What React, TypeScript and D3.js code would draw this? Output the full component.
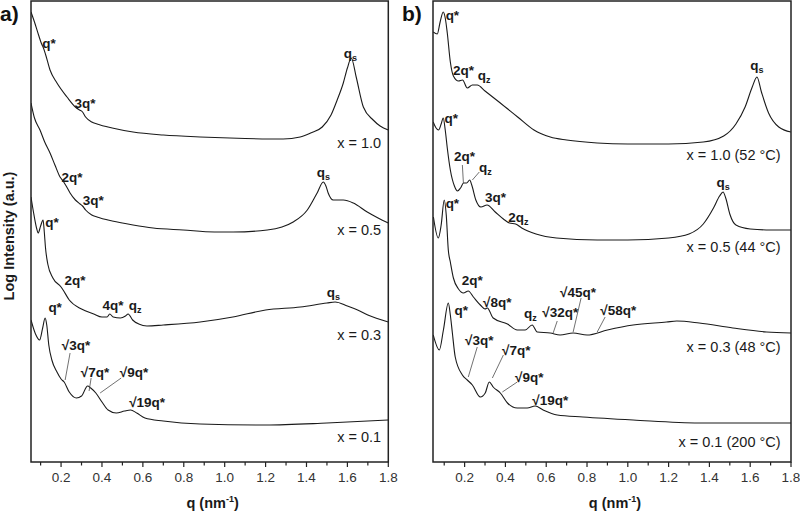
import React from "react";
import * as d3 from "d3";

type P = [number, number];

// ---- Panel a series (q in nm^-1, log intensity in a.u., offset) ----
const a_x10: P[] = [[0.053,4.50],[0.07,4.40],[0.09,4.27],[0.105,4.18],[0.112,4.15],[0.125,4.07],[0.146,3.92],[0.18,3.79],[0.229,3.65],[0.27,3.55],[0.29,3.52],[0.305,3.50],[0.32,3.45],[0.35,3.40],[0.376,3.38],[0.45,3.34],[0.552,3.30],[0.7,3.27],[0.88,3.25],[1.1,3.235],[1.286,3.23],[1.369,3.25],[1.42,3.29],[1.477,3.35],[1.52,3.47],[1.55,3.62],[1.58,3.79],[1.60,3.94],[1.619,4.04],[1.643,3.85],[1.678,3.55],[1.726,3.42],[1.76,3.36],[1.80,3.32]];
const a_x05: P[] = [[0.053,3.59],[0.07,3.44],[0.097,3.32],[0.12,3.20],[0.146,3.09],[0.17,2.97],[0.195,2.85],[0.21,2.81],[0.225,2.76],[0.244,2.69],[0.27,2.62],[0.293,2.58],[0.305,2.56],[0.32,2.52],[0.35,2.47],[0.376,2.45],[0.45,2.41],[0.552,2.37],[0.65,2.34],[0.797,2.32],[0.95,2.30],[1.041,2.30],[1.208,2.32],[1.28,2.35],[1.335,2.40],[1.404,2.52],[1.452,2.69],[1.482,2.80],[1.495,2.76],[1.506,2.69],[1.531,2.62],[1.58,2.62],[1.629,2.59],[1.697,2.50],[1.75,2.44],[1.80,2.39]];
const a_x03: P[] = [[0.053,2.65],[0.065,2.50],[0.08,2.34],[0.088,2.29],[0.100,2.36],[0.112,2.42],[0.118,2.30],[0.124,2.14],[0.135,1.98],[0.16,1.84],[0.2,1.75],[0.21,1.72],[0.24,1.62],[0.3,1.53],[0.36,1.48],[0.40,1.45],[0.425,1.45],[0.438,1.48],[0.455,1.45],[0.49,1.44],[0.515,1.46],[0.528,1.48],[0.55,1.42],[0.58,1.38],[0.62,1.36],[0.7,1.37],[0.88,1.40],[1.04,1.45],[1.2,1.52],[1.37,1.55],[1.5,1.59],[1.54,1.60],[1.6,1.56],[1.65,1.52],[1.7,1.47],[1.8,1.40]];
const a_x01: P[] = [[0.053,1.42],[0.075,1.28],[0.095,1.22],[0.11,1.34],[0.122,1.44],[0.13,1.37],[0.14,1.17],[0.155,1.02],[0.18,0.90],[0.2,0.83],[0.215,0.80],[0.24,0.70],[0.275,0.64],[0.30,0.66],[0.33,0.76],[0.345,0.74],[0.37,0.69],[0.40,0.60],[0.43,0.52],[0.47,0.49],[0.51,0.51],[0.54,0.52],[0.57,0.49],[0.61,0.44],[0.7,0.41],[0.88,0.38],[1.2,0.37],[1.5,0.39],[1.8,0.42]];

// ---- Panel b series ----
const b_x10: P[] = [[0.046,4.30],[0.066,4.28],[0.08,4.40],[0.095,4.50],[0.105,4.44],[0.115,4.29],[0.13,4.00],[0.145,3.86],[0.17,3.81],[0.19,3.82],[0.213,3.74],[0.238,3.77],[0.262,3.77],[0.30,3.71],[0.375,3.59],[0.46,3.45],[0.54,3.32],[0.62,3.25],[0.7,3.22],[0.85,3.19],[1.0,3.18],[1.2,3.18],[1.37,3.20],[1.47,3.26],[1.53,3.38],[1.575,3.55],[1.61,3.75],[1.633,3.85],[1.655,3.70],[1.69,3.49],[1.74,3.35],[1.8,3.30]];
const b_x05: P[] = [[0.046,3.40],[0.06,3.34],[0.072,3.32],[0.085,3.38],[0.095,3.44],[0.105,3.32],[0.115,3.14],[0.13,2.92],[0.15,2.76],[0.165,2.71],[0.18,2.74],[0.195,2.79],[0.21,2.79],[0.225,2.82],[0.235,2.77],[0.255,2.62],[0.28,2.55],[0.31,2.57],[0.35,2.50],[0.39,2.43],[0.42,2.39],[0.45,2.38],[0.48,2.34],[0.55,2.28],[0.65,2.24],[0.85,2.22],[1.0,2.22],[1.2,2.24],[1.3,2.28],[1.37,2.38],[1.42,2.54],[1.45,2.66],[1.467,2.70],[1.48,2.64],[1.50,2.48],[1.53,2.37],[1.6,2.33],[1.7,2.32],[1.8,2.32]];
const b_x03: P[] = [[0.047,2.45],[0.071,2.24],[0.085,2.37],[0.10,2.62],[0.11,2.47],[0.12,2.12],[0.13,2.00],[0.145,1.84],[0.17,1.73],[0.194,1.69],[0.218,1.71],[0.243,1.65],[0.277,1.57],[0.30,1.53],[0.311,1.54],[0.34,1.44],[0.41,1.38],[0.458,1.32],[0.497,1.32],[0.531,1.37],[0.556,1.30],[0.62,1.29],[0.668,1.27],[0.732,1.29],[0.80,1.27],[0.9,1.32],[1.026,1.37],[1.19,1.40],[1.24,1.41],[1.35,1.39],[1.515,1.34],[1.68,1.30],[1.8,1.29]];
const b_x01: P[] = [[0.046,1.27],[0.076,1.12],[0.096,1.32],[0.12,1.59],[0.13,1.47],[0.14,1.29],[0.154,1.05],[0.189,0.87],[0.213,0.82],[0.238,0.77],[0.277,0.65],[0.301,0.69],[0.321,0.80],[0.34,0.75],[0.375,0.69],[0.41,0.59],[0.458,0.54],[0.507,0.54],[0.546,0.56],[0.585,0.52],[0.654,0.47],[0.78,0.45],[1.026,0.42],[1.35,0.39],[1.8,0.39]];

const tickValues = [0.2, 0.4, 0.6, 0.8, 1.0, 1.2, 1.4, 1.6, 1.8];
const minorTicks = [0.1, 0.3, 0.5, 0.7, 0.9, 1.1, 1.3, 1.5, 1.7];

type Lbl = { t: string; sub?: string; q: number; I: number; anchor?: string; bold?: boolean };
type Lead = [number, number, number, number];

const a_labels: Lbl[] = [
  { t: "q*", q: 0.141, I: 4.19 },
  { t: "3q*", q: 0.317, I: 3.59 },
  { t: "q", sub: "s", q: 1.614, I: 4.09 },
  { t: "x = 1.0", q: 1.765, I: 3.19, anchor: "end", bold: false },
  { t: "2q*", q: 0.254, I: 2.85 },
  { t: "3q*", q: 0.357, I: 2.62 },
  { t: "q", sub: "s", q: 1.482, I: 2.90 },
  { t: "x = 0.5", q: 1.765, I: 2.32, anchor: "end", bold: false },
  { t: "q*", q: 0.156, I: 2.40 },
  { t: "2q*", q: 0.268, I: 1.82 },
  { t: "4q*", q: 0.454, I: 1.57 },
  { t: "q", sub: "z", q: 0.562, I: 1.57 },
  { t: "q", sub: "s", q: 1.531, I: 1.70 },
  { t: "x = 0.3", q: 1.765, I: 1.27, anchor: "end", bold: false },
  { t: "q*", q: 0.171, I: 1.55 },
  { t: "√3q*", q: 0.273, I: 1.17 },
  { t: "√7q*", q: 0.366, I: 0.90 },
  { t: "√9q*", q: 0.557, I: 0.90 },
  { t: "√19q*", q: 0.621, I: 0.60 },
  { t: "x = 0.1", q: 1.765, I: 0.25, anchor: "end", bold: false },
];
const a_leaders: Lead[] = [
  [0.244, 1.09, 0.220, 0.82],
  [0.347, 0.84, 0.337, 0.71],
  [0.494, 0.84, 0.391, 0.69],
];

const b_labels: Lbl[] = [
  { t: "q*", q: 0.140, I: 4.47 },
  { t: "2q*", q: 0.194, I: 3.92 },
  { t: "q", sub: "z", q: 0.296, I: 3.87 },
  { t: "q", sub: "s", q: 1.633, I: 3.97 },
  { t: "x = 1.0 (52 °C)", q: 1.749, I: 3.07, anchor: "end", bold: false },
  { t: "q*", q: 0.135, I: 3.44 },
  { t: "2q*", q: 0.199, I: 3.06 },
  { t: "q", sub: "z", q: 0.302, I: 2.95 },
  { t: "3q*", q: 0.351, I: 2.65 },
  { t: "2q", sub: "z", q: 0.463, I: 2.45 },
  { t: "q", sub: "s", q: 1.467, I: 2.80 },
  { t: "x = 0.5 (44 °C)", q: 1.749, I: 2.15, anchor: "end", bold: false },
  { t: "q*", q: 0.140, I: 2.59 },
  { t: "2q*", q: 0.238, I: 1.82 },
  { t: "√8q*", q: 0.360, I: 1.60 },
  { t: "q", sub: "z", q: 0.522, I: 1.49 },
  { t: "√32q*", q: 0.669, I: 1.50 },
  { t: "√45q*", q: 0.756, I: 1.70 },
  { t: "√58q*", q: 0.953, I: 1.52 },
  { t: "x = 0.3 (48 °C)", q: 1.749, I: 1.15, anchor: "end", bold: false },
  { t: "q*", q: 0.184, I: 1.52 },
  { t: "√3q*", q: 0.272, I: 1.22 },
  { t: "√7q*", q: 0.453, I: 1.12 },
  { t: "√9q*", q: 0.517, I: 0.85 },
  { t: "√19q*", q: 0.620, I: 0.62 },
  { t: "x = 0.1 (200 °C)", q: 1.749, I: 0.20, anchor: "end", bold: false },
];
const b_leaders: Lead[] = [
  [0.189, 2.97, 0.194, 2.79],
  [0.272, 2.90, 0.238, 2.82],
  [0.654, 1.41, 0.634, 1.29],
  [0.771, 1.64, 0.732, 1.30],
  [0.889, 1.45, 0.850, 1.30],
  [0.262, 1.15, 0.218, 0.85],
  [0.390, 1.07, 0.336, 0.84],
  [0.458, 0.80, 0.385, 0.70],
];

const FONT = "'Liberation Sans', Arial, sans-serif";
const TOP = 1;
const BOTTOM = 462;

function Panel(props: {
  id: string; x0: number; x1: number; qmin: number;
  series: P[][]; labels: Lbl[]; leaders: Lead[]; tag: string;
}) {
  const { id, x0, x1, qmin, series, labels, leaders, tag } = props;
  const x = d3.scaleLinear().domain([qmin, 1.8]).range([x0, x1]);
  const y = d3.scaleLinear().domain([0, 4.61]).range([BOTTOM, TOP]);
  const line = d3.line<P>().x(d => x(d[0])).y(d => y(d[1])).curve(d3.curveMonotoneX);
  return (
    <g>
      <defs>
        <clipPath id={"clip" + id}>
          <rect x={x0} y={TOP} width={x1 - x0} height={BOTTOM - TOP} />
        </clipPath>
      </defs>
      <g clipPath={`url(#clip${id})`}>
        {series.map((s, i) => (
          <path key={i} d={line(s) || ""} fill="none" stroke="#1a1a1a" strokeWidth={1.1} />
        ))}
      </g>
      {leaders.map((l, i) => (
        <line key={i} x1={x(l[0])} y1={y(l[1])} x2={x(l[2])} y2={y(l[3])} stroke="#333" strokeWidth={0.7} />
      ))}
      {labels.map((l, i) => (
        <text key={i} x={x(l.q)} y={y(l.I)} dy="0.36em" textAnchor={l.anchor || "middle"}
          fontFamily={FONT} fontSize={l.bold === false ? 14.5 : 13.5}
          fontWeight={l.bold === false ? "normal" : "bold"} fill="#1a1a1a">
          {l.t}
          {l.sub ? <tspan fontSize={9} dy="3">{l.sub}</tspan> : null}
        </text>
      ))}
      <rect x={x0} y={TOP} width={x1 - x0} height={BOTTOM - TOP} fill="none" stroke="#222" strokeWidth={1.5} />
      {minorTicks.map(t => (
        <line key={"m" + t} x1={x(t)} x2={x(t)} y1={BOTTOM} y2={BOTTOM + 3.5} stroke="#222" strokeWidth={1.2} />
      ))}
      {tickValues.map(t => (
        <g key={"t" + t}>
          <line x1={x(t)} x2={x(t)} y1={BOTTOM} y2={BOTTOM + 5} stroke="#222" strokeWidth={1.2} />
          <text x={x(t)} y={482} textAnchor="middle" fontFamily={FONT} fontSize={13.5} fill="#333">
            {t.toFixed(1)}
          </text>
        </g>
      ))}
      <text x={(x0 + x1) / 2 + 3} y={508} textAnchor="middle" fontFamily={FONT} fontSize={14.5} fontWeight="bold" fill="#1a1a1a">
        q (nm<tspan fontSize={9} dy="-6">-1</tspan><tspan dy="6">)</tspan>
      </text>
      <text x={x0 - 31} y={21} fontFamily={FONT} fontSize={21} fontWeight="bold" fill="#111">{tag}</text>
    </g>
  );
}

export default function App() {
  return (
    <svg width={800} height={511} style={{ position: "absolute", left: 0, top: 0, background: "#fff" }}>
      <rect x={0} y={0} width={800} height={511} fill="#fff" />
      <Panel id="a" x0={31} x1={388.3} qmin={0.053} series={[a_x10, a_x05, a_x03, a_x01]}
        labels={a_labels} leaders={a_leaders} tag="a)" />
      <Panel id="b" x0={433} x1={791} qmin={0.045} series={[b_x10, b_x05, b_x03, b_x01]}
        labels={b_labels} leaders={b_leaders} tag="b)" />
      <text transform="translate(14,236) rotate(-90)" textAnchor="middle" fontFamily={FONT}
        fontSize={14.5} fontWeight="bold" fill="#1a1a1a">Log Intensity (a.u.)</text>
    </svg>
  );
}
